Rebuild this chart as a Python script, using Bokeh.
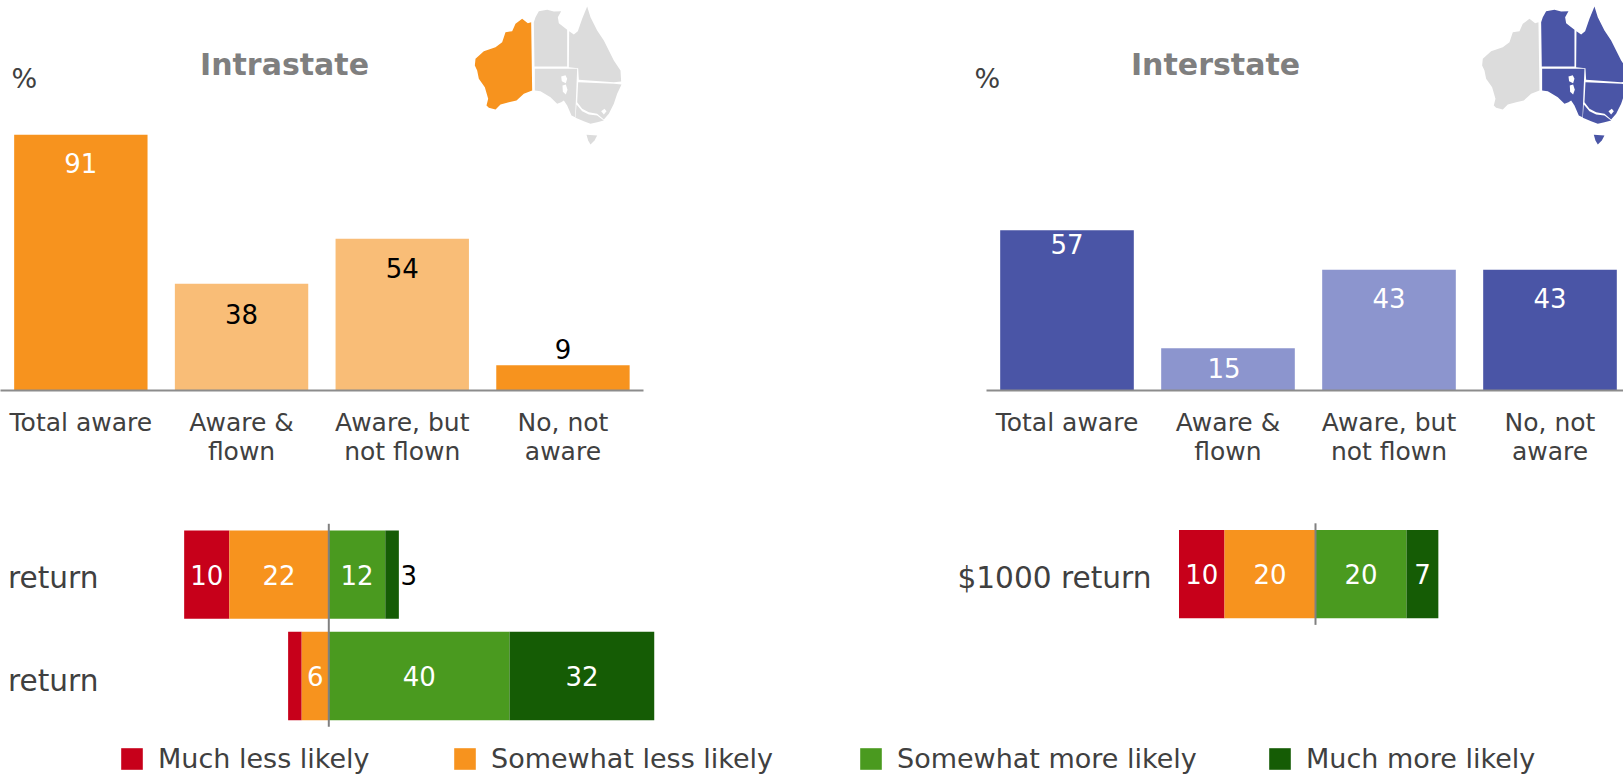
from bokeh.plotting import figure
from bokeh.layouts import column, row
from bokeh.models import Range1d, Label, FixedTicker, Legend, LegendItem, ColumnDataSource
from bokeh.embed import file_html
from bokeh.resources import INLINE

FONT = "DejaVu Sans"
TXT = "#404040"
ORANGE, ORANGE_L = "#f7931e", "#f9bd77"
BLUE, BLUE_L = "#4a55a6", "#8c95ce"
RED, GREEN, DGREEN = "#c7001a", "#4a9a1f", "#155c05"
MAP_GREY = "#dcdcdc"

# --- data
categories = ["Total aware", "Aware &\nflown", "Aware, but\nnot flown", "No, not\naware"]
intrastate = [91, 38, 54, 9]
interstate = [57, 15, 43, 43]
intra_colors = [ORANGE, ORANGE_L, ORANGE_L, ORANGE]
inter_colors = [BLUE, BLUE_L, BLUE_L, BLUE]
intra_label_colors = ["white", "black", "black", "black"]
inter_label_colors = ["white", "white", "white", "white"]

left_rows = ["return", "return"]
left_much_less = [-10, -3]
left_some_less = [-22, -6]
left_some_more = [12.5, 40]
left_much_more = [3, 32]
right_rows = ["$1000 return"]
right_much_less = [-10]
right_some_less = [-20]
right_some_more = [20]
right_much_more = [7]
legend_names = ["Much less likely", "Somewhat less likely", "Somewhat more likely", "Much more likely"]

# --- map outlines, in map units (north at small y)
WA = [(272,65),(275,270),(250,280),(228,300),(205,305),(180,312),(165,327),(145,322),(138,315),(143,295),(133,260),(115,235),(110,210),(103,195),(105,175),(130,152),(165,140),(185,125),(195,95),(215,92),(225,70),(245,55),(262,68)]
NT = [(280,65),(285,50),(295,32),(320,28),(340,33),(362,32),(352,50),(355,68),(380,88),(380,198),(282,198)]
QLD = [(386,92),(400,102),(412,92),(425,55),(440,18),(450,50),(470,90),(490,120),(505,150),(520,180),(540,210),(542,243),(520,245),(415,238),(413,203),(385,200)]
SA = [(283,205),(410,205),(404,350),(393,345),(380,315),(370,300),(362,305),(350,310),(330,290),(300,272),(283,270)]
NSW = [(413,245),(520,250),(543,252),(530,280),(520,310),(505,340),(490,357),(470,340),(445,335),(425,325),(410,305)]
VIC = [(408,312),(425,332),(445,342),(470,345),(490,360),(470,365),(450,370),(430,362),(405,352)]
TAS = [(438,403),(470,405),(462,420),(450,432),(443,420)]
LAKE1 = [(362,228),(375,224),(380,235),(376,248),(364,242)]
LAKE2 = [(366,255),(376,252),(381,268),(376,282),(367,274)]
LAKE3 = [(482,332),(492,325),(498,332),(490,342)]
EAST = [NT, QLD, SA, NSW, VIC, TAS]
HOLES = [LAKE1, LAKE2, LAKE3]


def add_map(p, frame_left, frame_right, map_left, east_color, wa_color):
    p.extra_x_ranges["map"] = Range1d(3 * (frame_left - map_left), 3 * (frame_right - map_left))
    p.extra_y_ranges["map"] = Range1d(3 * 390, 0)
    shapes = [WA] + EAST + HOLES
    colors = [wa_color] + [east_color] * len(EAST) + ["white"] * len(HOLES)
    p.patches([[a for a, _ in s] for s in shapes], [[b for _, b in s] for s in shapes],
              fill_color=colors, line_color=None,
              x_range_name="map", y_range_name="map")


def top_panel(width, xmin, xmax, bounds, title, title_x, pct_x, values, colors, label_colors,
              frame_left, map_left, east, wa, dy, dx):
    p = figure(width=width, height=470, output_backend="svg", toolbar_location=None,
               x_range=Range1d(xmin, xmax), y_range=Range1d(0, 390 / 2.81),
               y_axis_location=None, min_border_left=0, min_border_right=0,
               min_border_top=0, min_border_bottom=80, outline_line_color=None)
    p.grid.visible = False
    idx = list(range(len(values)))
    p.vbar(x=idx, top=values, width=0.83, fill_color=colors, line_color=None)
    src = ColumnDataSource(dict(x=idx, y=values, t=[str(v) for v in values], c=label_colors, o=dy, q=dx))
    p.text(x="x", y="y", text="t", text_color="c", y_offset="o", x_offset="q", source=src, text_align="center",
           text_baseline="middle", text_font_size="26px", text_font={"value": FONT})
    ax = p.xaxis[0]
    ax.ticker = FixedTicker(ticks=idx)
    ax.major_label_overrides = {i: c for i, c in zip(idx, categories)}
    ax.bounds = bounds
    ax.major_tick_line_color = None
    ax.minor_tick_line_color = None
    ax.axis_line_color = "#8c8c8c"
    ax.axis_line_width = 2
    ax.major_label_text_font = FONT
    ax.major_label_text_font_size = "25px"
    ax.major_label_text_line_height = 1.0
    ax.major_label_text_color = TXT
    ax.major_label_standoff = 11
    add_map(p, frame_left, frame_left + width, map_left, east, wa)
    p.add_layout(Label(x=title_x, y=390 - 64, x_units="screen", y_units="screen", text=title,
                       text_font=FONT, text_font_style="bold", text_font_size="30px",
                       text_color="#7f7f7f", text_align="center", text_baseline="middle"))
    p.add_layout(Label(x=pct_x, y=390 - 78, x_units="screen", y_units="screen", text="%",
                       text_font=FONT, text_font_size="27px", text_color=TXT,
                       text_align="left", text_baseline="middle"))
    return p


def bottom_panel(width, left_border, xr, yr, rows, ml, sl, sm, mm, labels, line_y, label_shift):
    p = figure(width=width, height=260, output_backend="svg", toolbar_location=None,
               x_range=Range1d(*xr), y_range=Range1d(*yr), x_axis_location=None,
               min_border_left=left_border, min_border_right=0, min_border_top=0, min_border_bottom=0,
               outline_line_color=None)
    p.grid.visible = False
    ys = list(range(len(rows)))[::-1]
    p.hbar(y=ys, left=[a + b for a, b in zip(ml, sl)], right=sl, height=0.87, fill_color=RED, line_color=None)
    p.hbar(y=ys, left=sl, right=[0] * len(ys), height=0.87, fill_color=ORANGE, line_color=None)
    p.hbar(y=ys, left=[0] * len(ys), right=sm, height=0.87, fill_color=GREEN, line_color=None)
    p.hbar(y=ys, left=sm, right=[a + b for a, b in zip(sm, mm)], height=0.87, fill_color=DGREEN, line_color=None)
    p.segment(x0=[0], x1=[0], y0=[line_y[0]], y1=[line_y[1]], line_color="#808080", line_width=2)
    tx, ty, tt, tc = [], [], [], []
    for i, y in enumerate(ys):
        for lo, hi, show in ((sl[i] + ml[i], sl[i], labels[i][0]), (sl[i], 0, labels[i][1]),
                             (0, sm[i], labels[i][2]), (sm[i], sm[i] + mm[i], labels[i][3])):
            if show is None:
                continue
            outside = (hi - lo) < 4 and lo > 0
            tx.append(hi + 2.2 if outside else (lo + hi) / 2)
            ty.append(y)
            tt.append(str(show))
            tc.append("black" if outside else "white")
    p.text(x=tx, y=ty, text=tt, text_color=tc, text_align="center", text_baseline="middle",
           text_font_size="26px", text_font={"value": FONT})
    ax = p.yaxis[0]
    ticks = [round(y - s, 2) for y, s in zip(ys, label_shift)]
    ax.ticker = FixedTicker(ticks=ticks)
    ax.major_label_overrides = {t: r for t, r in zip(ticks, rows)}
    ax.axis_line_color = None
    ax.major_tick_line_color = None
    ax.minor_tick_line_color = None
    ax.major_label_text_font = FONT
    ax.major_label_text_font_size = "29.6px"
    ax.major_label_text_color = TXT
    ax.major_label_standoff = 2
    return p


p1 = top_panel(960, -0.5, -0.5 + 960 / 160.7, (-0.5, 3.5), "Intrastate", 284, 11, intrastate, intra_colors,
               intra_label_colors, 0, 440, MAP_GREY, ORANGE, [28, 30, 29, -16], [0, 0, 0, 0])
p2 = top_panel(663, -0.5 - 26 / 161, -0.5 + 637 / 161, (-0.5, -0.5 + 637 / 161), "Interstate", 255, 14,
               interstate, inter_colors, inter_label_colors, 960, 1447.3, BLUE, MAP_GREY,
               [14, 20, 28, 28], [0, -4, 0, 0])

p3 = bottom_panel(940, 106, ((106 - 328.3) / 4.52, (940 - 328.3) / 4.52), (-0.537, 2.025),
                  left_rows, left_much_less, left_some_less, left_some_more, left_much_more,
                  [[10, 22, 12, 3], [None, 6, 40, 32]], (-0.5, 1.5), [0.03, 0.05])
p4 = bottom_panel(683, 219, ((1159 - 1315) / 4.55, (1623 - 1315) / 4.55), (-1.54, 1.02),
                  right_rows, right_much_less, right_some_less, right_some_more, right_much_more,
                  [[10, 20, 20, 7]], (-0.5, 0.5), [0.04])

p5 = figure(width=1623, height=44, output_backend="svg", toolbar_location=None,
            x_axis_location=None, y_axis_location=None, outline_line_color=None,
            min_border_left=0, min_border_right=0, min_border_top=0, min_border_bottom=0,
            x_range=Range1d(0, 1), y_range=Range1d(0, 1))
p5.grid.visible = False
for name, col, lx in zip(legend_names, [RED, ORANGE, GREEN, DGREEN], [118, 451, 857, 1266]):
    # the bar lies outside the range on purpose: only its legend swatch shows
    r = p5.vbar(x=[5], top=[0.5], width=1, fill_color=col, line_color=None)
    leg = Legend(items=[LegendItem(label=name, renderers=[r])], location=(lx, 0),
                 orientation="horizontal", padding=0, margin=0, spacing=0,
                 background_fill_alpha=0, border_line_color=None,
                 glyph_width=27, glyph_height=27, label_standoff=13,
                 label_text_font=FONT, label_text_font_size="27px", label_text_color=TXT,
                 label_height=27)
    p5.add_layout(leg, "center")

layout = column(row(p1, p2), row(p3, p4), p5)
open("out.html", "w").write(file_html(layout, INLINE))
